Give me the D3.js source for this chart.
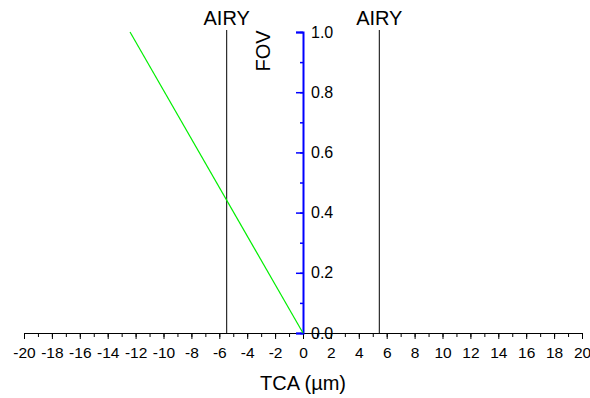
<!DOCTYPE html>
<html>
<head>
<meta charset="utf-8">
<script src="https://cdn.jsdelivr.net/npm/d3@7"></script>
<style>
  body { margin: 0; background: #fff; }
  text { font-family: "Liberation Sans", Arial, sans-serif; }
</style>
</head>
<body>
<div id="chart"></div>
<script>
// chart values
const tcaValues = [-12.4, 0];
const fovValues = [1.0, 0];
const airyPositions = [-5.47, 5.47];
const airyLabels = ["AIRY", "AIRY"];
const xTicks = d3.range(-20, 21, 2);
const yTicks = [0, 0.2, 0.4, 0.6, 0.8, 1.0];

const width = 590;
const height = 398;

const svg = d3.select("#chart")
    .append("svg")
    .attr("width", width)
    .attr("height", height);

const x = d3.scaleLinear().domain([-20, 20]).range([24, 582]);
const y = d3.scaleLinear().domain([0, 1]).range([333, 32]);

// x axis: major ticks every 2, minor every 1
svg.append("g")
    .attr("transform", `translate(0,${y(0)})`)
    .call(d3.axisBottom(x).tickValues(d3.range(-20, 21, 1)).tickSize(4).tickFormat(""))
    .call(g => g.select(".domain").remove())
    .call(g => g.selectAll("line").attr("stroke", "#000"));

const xAxis = svg.append("g")
    .attr("transform", `translate(0,${y(0)})`)
    .call(d3.axisBottom(x).tickValues(xTicks).tickSize(6).tickSizeOuter(0).tickPadding(8).tickFormat(d => String(d)));
xAxis.select(".domain").attr("stroke", "#000");
xAxis.selectAll("text").attr("font-size", 15.5).attr("fill", "#000")
    .attr("font-family", "Liberation Sans, Arial, sans-serif");

svg.append("text")
    .attr("x", x(0))
    .attr("y", 390)
    .attr("text-anchor", "middle")
    .attr("font-size", 20)
    .text("TCA (µm)");

// airy lines
airyPositions.forEach((p, i) => {
  svg.append("line")
      .attr("x1", x(p)).attr("x2", x(p))
      .attr("y1", 30).attr("y2", y(0))
      .attr("stroke", "#000").attr("stroke-width", 1);
  svg.append("text")
      .attr("x", x(p))
      .attr("y", 25)
      .attr("text-anchor", "middle")
      .attr("font-size", 20)
      .text(airyLabels[i]);
});

// fov axis (blue) at x = 0
svg.append("g")
    .attr("transform", `translate(${x(0)},0)`)
    .call(d3.axisLeft(y).tickValues(d3.range(0, 1.01, 0.1)).tickSize(3).tickFormat(""))
    .call(g => g.select(".domain").remove())
    .call(g => g.selectAll("line").attr("stroke", "#0000ff").attr("stroke-width", 1.5));

const yAxis = svg.append("g")
    .attr("transform", `translate(${x(0)},0)`)
    .call(d3.axisLeft(y).tickValues(yTicks).tickSize(7).tickSizeOuter(7).tickFormat(""));
yAxis.select(".domain").attr("stroke", "#0000ff").attr("stroke-width", 2);
yAxis.selectAll(".tick line").attr("stroke", "#0000ff").attr("stroke-width", 1.5);

svg.append("g")
  .selectAll("text")
  .data(yTicks)
  .join("text")
    .attr("x", x(0) + 8)
    .attr("y", d => y(d))
    .attr("dy", "0.35em")
    .attr("font-size", 16)
    .text(d3.format(".1f"));

svg.append("text")
    .attr("transform", `translate(270,51) rotate(-90)`)
    .attr("text-anchor", "middle")
    .attr("font-size", 20)
    .text("FOV");

// green line
const line = d3.line().x(d => x(d[0])).y(d => y(d[1]));
svg.append("path")
    .datum(tcaValues.map((t, i) => [t, fovValues[i]]))
    .attr("fill", "none")
    .attr("stroke", "#00ee00")
    .attr("stroke-width", 1.2)
    .attr("d", line);
</script>
</body>
</html>
